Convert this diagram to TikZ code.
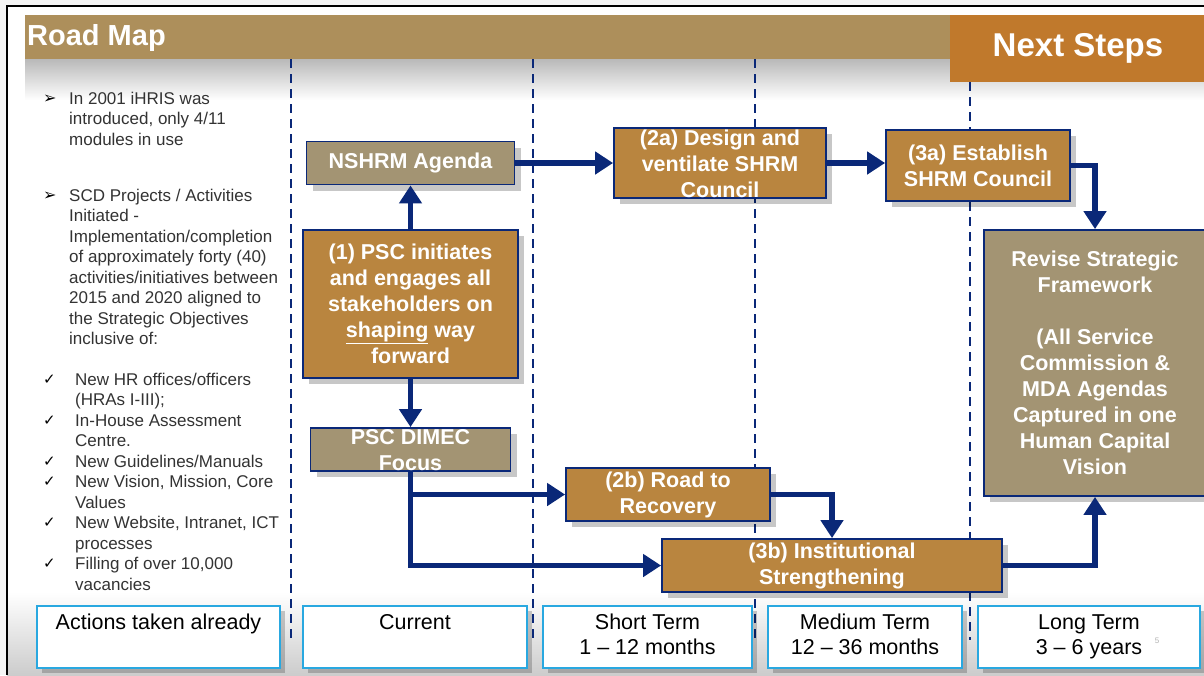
\documentclass[tikz,border=0pt]{standalone}
\usepackage{fontspec}
\setmainfont{Liberation Sans}
\newfontfamily\symfont{DejaVu Sans}
\usetikzlibrary{arrows.meta,shadows,positioning}

\definecolor{barTan}{HTML}{AD8F5B}
\definecolor{nextOrange}{HTML}{C0792C}
\definecolor{boxOrange}{HTML}{B9853F}
\definecolor{boxKhaki}{HTML}{A39473}
\definecolor{roadNavy}{HTML}{0A2878}
\definecolor{termBlue}{HTML}{29A8E0}
\definecolor{textGray}{HTML}{333333}

\newcommand{\roadbullet}{\smash{\raisebox{1pt}{\color{black}\symfont\fontsize{16}{16}\selectfont ➢}}}
\newcommand{\roadtick}{\smash{\raisebox{1pt}{\color{black}\symfont\fontsize{15}{15}\selectfont ✓}}}

\tikzset{
  orangebox/.style={draw=roadNavy, line width=1.8pt, fill=boxOrange, inner sep=0pt,
    drop shadow={shadow xshift=6pt, shadow yshift=-6pt, fill=black, opacity=0.22}},
  khakibox/.style={orangebox, fill=boxKhaki},
  boxtext/.style={text=white, font=\bfseries\fontsize{21.5}{26}\selectfont, align=center, inner sep=0pt},
  termbox/.style={draw=termBlue, line width=2pt, fill=white, minimum height=62pt, inner sep=0pt,
    align=center, font=\fontsize{21.5}{25}\selectfont,
    drop shadow={shadow xshift=5pt, shadow yshift=-5pt, fill=black, opacity=0.2}},
  flow/.style={draw=roadNavy, line width=5.5pt, -{Triangle[length=18pt,width=22pt]}},
  divider/.style={draw=roadNavy, line width=2.8pt, dash pattern=on 9pt off 6pt}
}

\begin{document}
\begin{tikzpicture}[x=1pt,y=-1pt]
  \useasboundingbox (0,0) rectangle (1204,675);
  \fill[gray!8] (0,0) rectangle (1204,675);
  \fill[white] (7,6) rectangle (1204,675);
  % shading under the title and behind the time line
  \shade[top color=gray!55, bottom color=white] (25,59) rectangle (1204,100);
  \shade[top color=white, bottom color=gray!40] (7,592) rectangle (1204,675);
  \draw[black, line width=2.5pt] (7,675) -- (7,6) -- (1204,6);

  % title bar
  \fill[barTan] (25,15) rectangle (950,59);
  \node[anchor=base west, text=white, font=\bfseries\fontsize{29}{32}\selectfont, inner sep=0pt] (roadmap) at (27,45) {Road Map};
  \node[fill=nextOrange, minimum width=256pt, minimum height=67pt, inner sep=0pt, text=white,
        font=\bfseries\fontsize{33}{36}\selectfont] (nextsteps) at (1078,48.5) {Next Steps};

  % time line dividers
  \draw[divider] (291,59) -- (291,640);
  \draw[divider] (533,59) -- (533,640);
  \draw[divider] (755,59) -- (755,640);
  \draw[divider] (970,82) -- (970,640);

  % what has been done
  \node[anchor=north west, inner sep=0pt, text=textGray, font=\fontsize{17}{20.5}\selectfont] (history) at (43,89.65) {%
    \begin{tabular}{@{}p{26pt}@{}l@{}}
    \roadbullet & In 2001 iHRIS was\\
     & introduced, only 4/11\\
     & modules in use\\[35.5pt]
    \roadbullet & SCD Projects / Activities\\
     & Initiated -\\
     & Implementation/completion\\
     & of approximately forty (40)\\
     & activities/initiatives between\\
     & 2015 and 2020 aligned to\\
     & the Strategic Objectives\\
     & inclusive of:\\[20pt]
    \roadtick & \hspace*{6pt}New HR offices/officers\\
     & \hspace*{6pt}(HRAs I-III);\\
    \roadtick & \hspace*{6pt}In-House Assessment\\
     & \hspace*{6pt}Centre.\\
    \roadtick & \hspace*{6pt}New Guidelines/Manuals\\
    \roadtick & \hspace*{6pt}New Vision, Mission, Core\\
     & \hspace*{6pt}Values\\
    \roadtick & \hspace*{6pt}New Website, Intranet, ICT\\
     & \hspace*{6pt}processes\\
    \roadtick & \hspace*{6pt}Filling of over 10,000\\
     & \hspace*{6pt}vacancies
    \end{tabular}};

  % boxes
  \node[khakibox, minimum width=208pt, minimum height=43pt] (nshrm) at (410.5,163) {};
  \node[orangebox, minimum width=215pt, minimum height=148pt] (psc) at (410.5,304) {};
  \node[khakibox, minimum width=200pt, minimum height=43pt] (dimec) at (410.5,449.5) {};
  \node[orangebox, minimum width=212pt, minimum height=70pt] (design) at (720,163) {};
  \node[orangebox, minimum width=184pt, minimum height=71pt] (establish) at (978,165.5) {};
  \node[khakibox, minimum width=222pt, minimum height=266pt] (revise) at (1095,363) {};
  \node[orangebox, minimum width=204pt, minimum height=53pt] (recovery) at (668,494.5) {};
  \node[orangebox, minimum width=340pt, minimum height=53pt] (strength) at (832,565.5) {};

  \node[boxtext] (nshrm-t) at (nshrm) {NSHRM Agenda};
  \node[boxtext] (psc-t) at (psc) {(1) PSC initiates\\and engages all\\stakeholders on\\\underline{shaping} way\\forward};
  \node[boxtext] (dimec-t) at ([yshift=-1pt]dimec) {PSC DIMEC\\Focus};
  \node[boxtext] (design-t) at ([yshift=-1pt]design) {(2a) Design and\\ventilate SHRM\\Council};
  \node[boxtext] (establish-t) at (establish) {(3a) Establish\\SHRM Council};
  \node[boxtext] (revise-t) at (revise) {Revise Strategic\\Framework\\[26pt](All Service\\Commission \&\\MDA Agendas\\Captured in one\\Human Capital\\Vision};
  \node[boxtext] (recovery-t) at (recovery) {(2b) Road to\\Recovery};
  \node[boxtext] (strength-t) at (strength) {(3b) Institutional\\Strengthening};

  % connectors
  \draw[flow] (psc) -- (nshrm);
  \draw[flow] (psc) -- (dimec);
  \draw[flow] (nshrm) -- (design);
  \draw[flow] (design.east) -- (establish.west |- design.east);
  \draw[flow] (establish.east) -| (revise.north);
  \draw[flow] (dimec.south) |- (recovery.west);
  \draw[flow] (dimec.south) |- (strength.west);
  \draw[flow] (recovery.east) -| (strength.north);
  \draw[flow] (strength.east) -| (revise.south);

  % time line
  \node[termbox, minimum width=243pt] (already) at (158.5,637) {\strut Actions taken already\\\strut};
  \node[termbox, minimum width=224pt] (current) at (415,637) {\strut Current\\\strut};
  \node[termbox, minimum width=209pt] (short) at (647.5,637) {\strut Short Term\\\strut 1 – 12 months};
  \node[termbox, minimum width=194pt] (medium) at (865,637) {\strut Medium Term\\\strut 12 – 36 months};
  \node[termbox, minimum width=222pt] (long) at (1089,637) {\strut Long Term\\\strut 3 – 6 years};
  \node[text=gray!60, font=\fontsize{8}{8}\selectfont, inner sep=0pt] (pagenum) at (1157,641) {5};
\end{tikzpicture}
\end{document}
